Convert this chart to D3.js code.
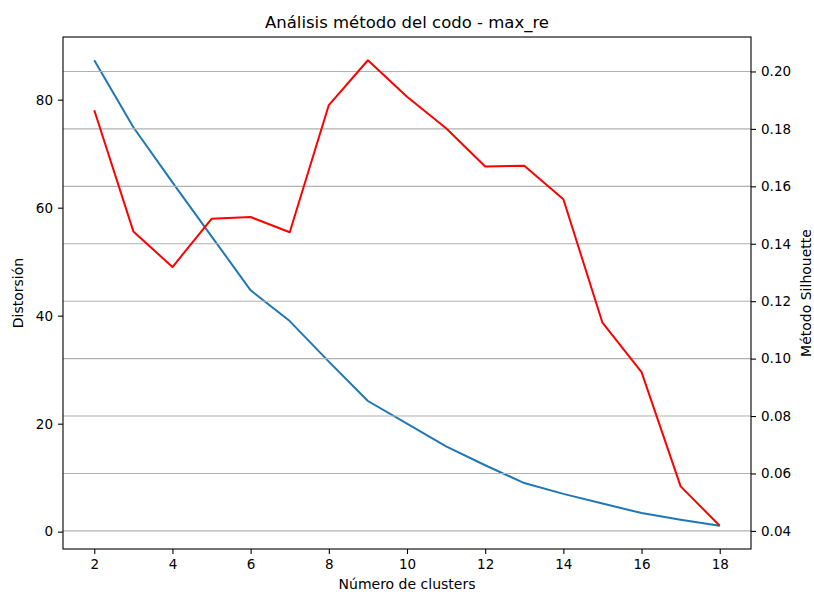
<!DOCTYPE html>
<html>
<head>
<meta charset="utf-8">
<script src="https://cdn.jsdelivr.net/npm/d3@7"></script>
<style>
  body { margin: 0; background: #fff; }
  svg { display: block; font-family: "DejaVu Sans", sans-serif; }
</style>
</head>
<body>
<svg id="chart" width="814" height="594"></svg>
<script>
// Number of clusters tried
const clusters = [2, 3, 4, 5, 6, 7, 8, 9, 10, 11, 12, 13, 14, 15, 16, 17, 18];
// Elbow method: distortion per k
const distortion = [87.3, 74.9, 64.7, 54.7, 44.7, 39.0, 31.5, 24.2, 20.0, 15.8, 12.3, 9.0, 7.0, 5.2, 3.45, 2.2, 1.1];
// Silhouette score per k
const silhouette = [0.1865, 0.1443, 0.1319, 0.1487, 0.1493, 0.1440, 0.1883, 0.2039, 0.1912, 0.1802, 0.1669, 0.1672, 0.1555, 0.1125, 0.0953, 0.0555, 0.0418];
// Tick values
const xTicks = [2, 4, 6, 8, 10, 12, 14, 16, 18];
const leftTicks = [0, 20, 40, 60, 80];
const rightTicks = [0.04, 0.06, 0.08, 0.10, 0.12, 0.14, 0.16, 0.18, 0.20];

const svg = d3.select("#chart");
const m = { left: 63, right: 751, top: 37, bottom: 549 };

// matplotlib-style 5% margins
function padded(vals) {
  const [lo, hi] = d3.extent(vals);
  const p = (hi - lo) * 0.05;
  return [lo - p, hi + p];
}

const x = d3.scaleLinear().domain(padded(clusters)).range([m.left, m.right]);
const yL = d3.scaleLinear().domain(padded(distortion)).range([m.bottom, m.top]);
const yR = d3.scaleLinear().domain(padded(silhouette)).range([m.bottom, m.top]);

const gridColor = "#b0b0b0";

// Distortion line (first axes)
svg.append("path")
  .datum(clusters.map((k, i) => [k, distortion[i]]))
  .attr("fill", "none")
  .attr("stroke", "#1f77b4")
  .attr("stroke-width", 2)
  .attr("stroke-linejoin", "round")
  .attr("d", d3.line().x(d => x(d[0])).y(d => yL(d[1])));

// Grid from the twin (right) axis, drawn over the first axes
svg.append("g")
  .selectAll("line")
  .data(rightTicks)
  .join("line")
  .attr("x1", m.left).attr("x2", m.right)
  .attr("y1", d => yR(d)).attr("y2", d => yR(d))
  .attr("stroke", gridColor)
  .attr("stroke-width", 1.1);

// Silhouette line (twin axes)
svg.append("path")
  .datum(clusters.map((k, i) => [k, silhouette[i]]))
  .attr("fill", "none")
  .attr("stroke", "red")
  .attr("stroke-width", 2)
  .attr("stroke-linejoin", "round")
  .attr("d", d3.line().x(d => x(d[0])).y(d => yR(d[1])));

// Axes
function styleAxis(g) {
  g.selectAll(".domain").remove();
  g.selectAll(".tick line").attr("stroke", "#000").attr("stroke-width", 1.1);
  g.selectAll(".tick text").attr("fill", "#000").style("font-size", "13.5px").style("font-family", "DejaVu Sans, sans-serif");
}

svg.append("g")
  .attr("transform", `translate(0,${m.bottom})`)
  .call(d3.axisBottom(x).tickValues(xTicks).tickFormat(d3.format("d")).tickSize(5).tickPadding(5))
  .call(styleAxis);

svg.append("g")
  .attr("transform", `translate(${m.left},0)`)
  .call(d3.axisLeft(yL).tickValues(leftTicks).tickFormat(d3.format("d")).tickSize(5).tickPadding(5))
  .call(styleAxis);

svg.append("g")
  .attr("transform", `translate(${m.right},0)`)
  .call(d3.axisRight(yR).tickValues(rightTicks).tickFormat(d3.format(".2f")).tickSize(5).tickPadding(5))
  .call(styleAxis);

// Frame
svg.append("rect")
  .attr("x", m.left).attr("y", m.top)
  .attr("width", m.right - m.left).attr("height", m.bottom - m.top)
  .attr("fill", "none").attr("stroke", "#000").attr("stroke-width", 1.1);

// Labels
svg.append("text")
  .attr("x", (m.left + m.right) / 2).attr("y", 28)
  .attr("text-anchor", "middle")
  .style("font-size", "16.5px")
  .text("Análisis método del codo - max_re");

svg.append("text")
  .attr("x", (m.left + m.right) / 2).attr("y", 589)
  .attr("text-anchor", "middle")
  .style("font-size", "14px")
  .text("Número de clusters");

svg.append("text")
  .attr("transform", `translate(23,${(m.top + m.bottom) / 2}) rotate(-90)`)
  .attr("text-anchor", "middle")
  .style("font-size", "14px")
  .text("Distorsión");

svg.append("text")
  .attr("transform", `translate(811,${(m.top + m.bottom) / 2}) rotate(-90)`)
  .attr("text-anchor", "middle")
  .style("font-size", "14px")
  .text("Método Silhouette");
</script>
</body>
</html>
